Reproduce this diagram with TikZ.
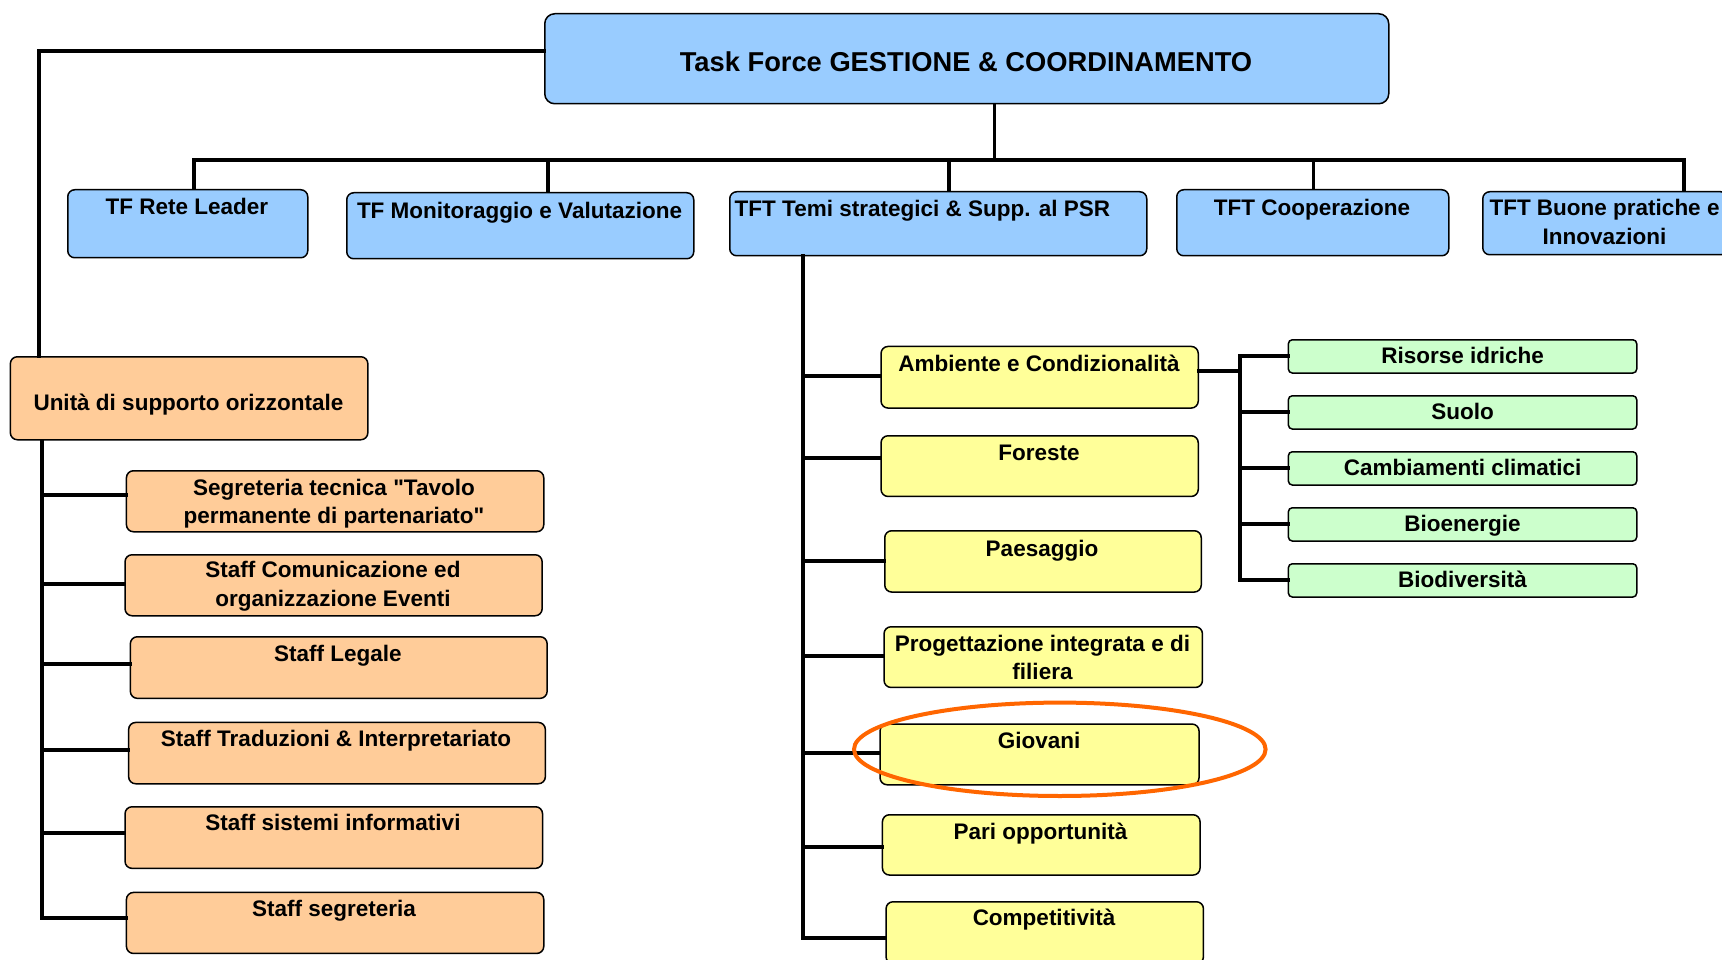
\documentclass[tikz,border=0pt]{standalone}
\usepackage{fontspec}
\setmainfont{Liberation Sans}
\newfontfamily\qfont{Liberation Sans}[Ligatures=TeXOff]
\newcommand{\sq}{{\qfont"}}
\usetikzlibrary{shapes.geometric}
\definecolor{bluef}{HTML}{99CCFF}
\definecolor{orangef}{HTML}{FFCC99}
\definecolor{yellowf}{HTML}{FFFF99}
\definecolor{greenf}{HTML}{CCFFCC}
\definecolor{hlorange}{HTML}{FF6600}
\begin{document}
\begin{tikzpicture}[x=1pt,y=-1pt,
  boxbase/.style={draw=black, line width=1.5pt, rounded corners=7pt, anchor=north west, inner sep=0pt},
  bluebox/.style={boxbase, fill=bluef},
  orangebox/.style={boxbase, fill=orangef},
  yellowbox/.style={boxbase, fill=yellowf},
  greenbox/.style={boxbase, fill=greenf, rounded corners=4pt},
  txt/.style={font=\bfseries\fontsize{22.5}{28.5}\selectfont, align=center, inner sep=0pt},
  onetxt/.style={txt, text height=0.72em, text depth=0.2em},
  twotxt/.style={txt, anchor=base},
  titletxt/.style={onetxt, font=\bfseries\fontsize{27.3}{32}\selectfont},
  wire/.style={line width=4pt, line cap=rect},
  stub/.style={line width=3.5pt},
  hl/.style={draw=hlorange, line width=4pt, ellipse, inner sep=0pt}
]
\useasboundingbox (0,0) rectangle (1722,960);
\fill[white] (0,0) rectangle (1722,960);

% ---------- top ----------
\node[bluebox, minimum width=844pt, minimum height=90pt, rounded corners=10pt] (main) at (544,13) {};
\node[titletxt] (tmain) at (966,68.5) {Task Force GESTIONE \& COORDINAMENTO};

% row 2
\node[bluebox, minimum width=240pt, minimum height=68pt] (rete) at (67,189) {};
\node[onetxt] (trete) at (187,212) {TF Rete Leader};
\node[bluebox, minimum width=347pt, minimum height=66pt] (mon) at (346,192) {};
\node[onetxt] (tmon) at (519.5,215.5) {TF Monitoraggio e Valutazione};
\node[bluebox, minimum width=417pt, minimum height=64pt] (tft) at (729,191) {};
\node[onetxt, anchor=west] (ttft) at (734.5,214) {TFT Temi strategici \& Supp. al PSR};
\node[bluebox, minimum width=272pt, minimum height=66pt] (coop) at (1176,189) {};
\node[onetxt] (tcoop) at (1312,212.5) {TFT Cooperazione};
\node[bluebox, minimum width=245pt, minimum height=63pt] (buone) at (1482,191) {};
\node[twotxt] (tbuone) at (1604.5,244) {TFT Buone pratiche e\\Innovazioni};

% bus
\coordinate (busL) at (194,160);
\coordinate (busR) at (1684,160);
\coordinate (busM) at (994.7,160);
\coordinate (sMon) at (548,160);
\coordinate (sTft) at (949,160);
\coordinate (sCoop) at (1313.4,160);
\draw[line width=3pt] (busM) -- (busM |- main.south);
\draw[wire] (busL) -- (busR);
\draw[stub] (busL) -- (busL |- rete.north);
\draw[stub] (sMon) -- (sMon |- mon.north);
\draw[stub] (sTft) -- (sTft |- tft.north);
\draw[stub] (sCoop) -- (sCoop |- coop.north);
\draw[stub] (busR) -- (busR |- buone.north);

% ---------- left: Unita di supporto ----------
\node[orangebox, minimum width=357.5pt, minimum height=83pt] (uni) at (9.6,356) {};
\node[onetxt] (tuni) at (188.5,407.5) {Unità di supporto orizzontale};
\coordinate (lTop) at (39.3,50.7);
\draw[wire] (lTop -| main.west) -- (lTop) -- (lTop |- uni.north);

\node[orangebox, minimum width=417.3pt, minimum height=61pt] (s1) at (125.7,470) {};
\node[twotxt] (ts1) at (334,523.6) {Segreteria tecnica \sq Tavolo\\permanente di partenariato\sq};
\node[orangebox, minimum width=417.1pt, minimum height=61pt] (s2) at (124.3,554) {};
\node[twotxt] (ts2) at (333,606) {Staff Comunicazione ed\\organizzazione Eventi};
\node[orangebox, minimum width=416.8pt, minimum height=61.6pt] (s3) at (129.6,636) {};
\node[onetxt] (ts3) at (338,659) {Staff Legale};
\node[orangebox, minimum width=416.7pt, minimum height=61.3pt] (s4) at (127.9,721.7) {};
\node[onetxt] (ts4) at (336,744) {Staff Traduzioni \& Interpretariato};
\node[orangebox, minimum width=417.5pt, minimum height=61.6pt] (s5) at (124.3,806) {};
\node[onetxt] (ts5) at (333,827.5) {Staff sistemi informativi};
\node[orangebox, minimum width=417.3pt, minimum height=61pt] (s6) at (125.7,891.7) {};
\node[onetxt] (ts6) at (334,914) {Staff segreteria};

\coordinate (uTr) at (42,439);
\coordinate (p1) at ([yshift=5.8pt]s1.west);
\coordinate (p2) at ([yshift=1.5pt]s2.west);
\coordinate (p3) at ([yshift=3.3pt]s3.west);
\coordinate (p4) at ([yshift=3.3pt]s4.west);
\coordinate (p5) at ([yshift=4.8pt]s5.west);
\coordinate (p6) at ([yshift=4.8pt]s6.west);
\draw[wire] (uTr |- uni.south) -- (uTr |- p6) -- (p6);
\foreach \p in {p1,p2,p3,p4,p5}{\draw[wire] (uTr |- \p) -- (\p);}

% ---------- TFT temi strategici subtree ----------
\node[yellowbox, minimum width=317.2pt, minimum height=61.6pt] (a1) at (880.3,345.7) {};
\node[onetxt] (ta1) at (1039,369) {Ambiente e Condizionalità};
\node[yellowbox, minimum width=317.2pt, minimum height=60.7pt] (a2) at (880.3,435) {};
\node[onetxt] (ta2) at (1039,458.2) {Foreste};
\node[yellowbox, minimum width=316.5pt, minimum height=61.3pt] (a3) at (884,530) {};
\node[onetxt] (ta3) at (1042,553.8) {Paesaggio};
\node[yellowbox, minimum width=318.4pt, minimum height=60.7pt] (a4) at (883.3,626) {};
\node[twotxt] (ta4) at (1042.5,679.7) {Progettazione integrata e di\\filiera};
\node[yellowbox, minimum width=319pt, minimum height=60.7pt] (a5) at (879.3,723.3) {};
\node[onetxt] (ta5) at (1039,745.5) {Giovani};
\node[yellowbox, minimum width=317.6pt, minimum height=60.3pt] (a6) at (881.7,814) {};
\node[onetxt] (ta6) at (1040.5,837.2) {Pari opportunità};
\node[yellowbox, minimum width=317.4pt, minimum height=62pt] (a7) at (885.3,901) {};
\node[onetxt] (ta7) at (1044,923.2) {Competitività};

\coordinate (tTr) at (802.8,255);
\coordinate (q1) at ([yshift=1.5pt]a1.west);
\coordinate (q2) at ([yshift=8pt]a2.west);
\coordinate (q3) at ([yshift=0.7pt]a3.west);
\coordinate (q4) at ([yshift=1.3pt]a4.west);
\coordinate (q5) at ([yshift=1.4pt]a5.west);
\coordinate (q6) at ([yshift=-2.5pt]a6.west);
\coordinate (q7) at ([yshift=-5.2pt]a7.west);
\draw[wire] (tTr |- tft.south) -- (tTr |- q7) -- (q7);
\foreach \q in {q1,q2,q3,q4,q5,q6}{\draw[wire] (tTr |- \q) -- (\q);}

% ---------- green subtree ----------
\node[greenbox, minimum width=348.4pt, minimum height=33.3pt] (g1) at (1287.6,339) {};
\node[onetxt] (tg1) at ([yshift=-4.5pt]g1.center) {Risorse idriche};
\node[greenbox, minimum width=348.4pt, minimum height=33.3pt] (g2) at (1287.6,395) {};
\node[onetxt] (tg2) at ([yshift=-4.5pt]g2.center) {Suolo};
\node[greenbox, minimum width=348.4pt, minimum height=33.3pt] (g3) at (1287.6,451) {};
\node[onetxt] (tg3) at ([yshift=-4.5pt]g3.center) {Cambiamenti climatici};
\node[greenbox, minimum width=348.4pt, minimum height=33.3pt] (g4) at (1287.6,507) {};
\node[onetxt] (tg4) at ([yshift=-4.5pt]g4.center) {Bioenergie};
\node[greenbox, minimum width=348.4pt, minimum height=33.3pt] (g5) at (1287.6,563) {};
\node[onetxt] (tg5) at ([yshift=-4.5pt]g5.center) {Biodiversità};

\coordinate (gTr) at (1239.6,370);
\coordinate (r0) at ([yshift=6.5pt]a1.east);
\draw[wire] (r0) -- (gTr |- r0);
\draw[wire] (gTr |- g1.west) -- (gTr |- g5.west);
\foreach \g in {g1,g2,g3,g4,g5}{\draw[wire] (gTr |- \g.west) -- (\g.west);}

% highlight
\node[hl, minimum width=411.6pt, minimum height=93.4pt] (hlg) at (1059.8,749.3) {};
\end{tikzpicture}
\end{document}
